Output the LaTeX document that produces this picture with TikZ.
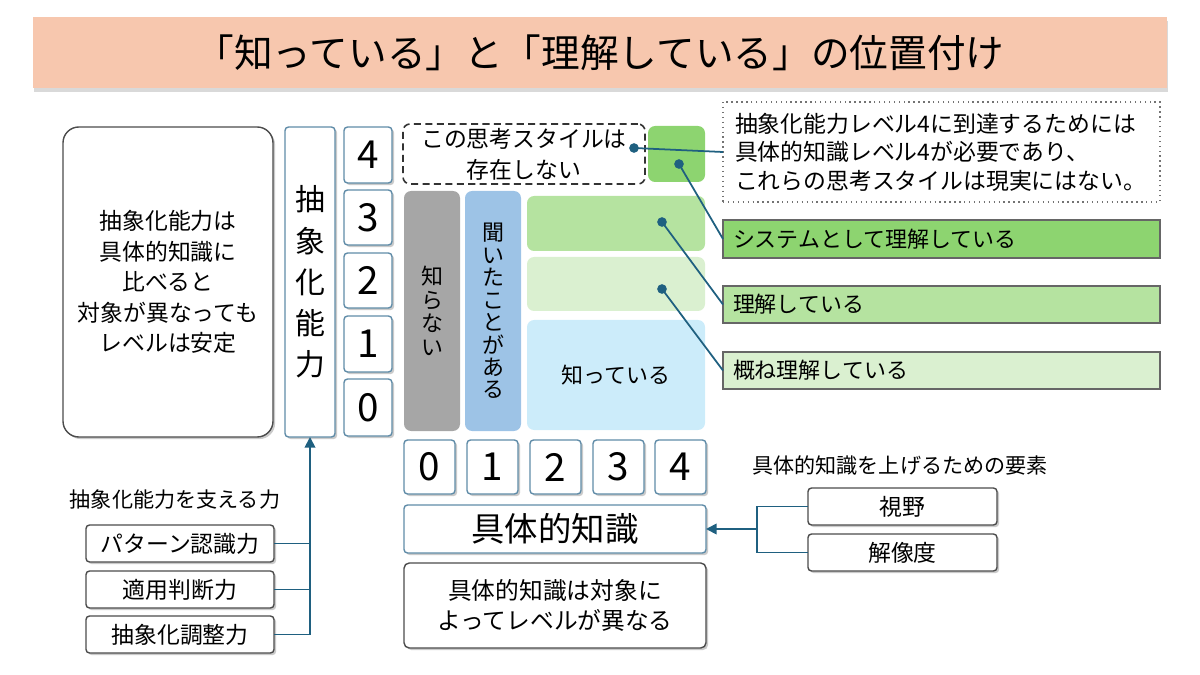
\documentclass[tikz,border=0pt]{standalone}
\usepackage{fontspec}
\setmainfont{Noto Sans CJK JP}
\usetikzlibrary{arrows.meta,shadows}
\definecolor{titlec}{RGB}{247,199,174}
\definecolor{conc}{RGB}{31,96,128}
\definecolor{numc}{RGB}{96,140,168}
\definecolor{grayc}{RGB}{166,166,166}
\definecolor{bluec}{RGB}{157,195,230}
\definecolor{skyc}{RGB}{204,236,250}
\definecolor{gdark}{RGB}{141,212,112}
\definecolor{gmid}{RGB}{181,227,160}
\definecolor{glight}{RGB}{218,240,208}
\newcommand\bx[7]{\node[#6, minimum width={(#4-#2)*0.02cm}, minimum height={(#5-#3)*0.02cm}] (#1) at ({(#2+#4)/2},{(#3+#5)/2}) {#7};}
\begin{document}
\begin{tikzpicture}[x=0.02cm,y=-0.02cm,
  base/.style={inner sep=0pt, outer sep=0pt, align=center, font=\fontsize{13}{17}\selectfont},
  shad/.style={drop shadow={shadow xshift=1.2pt, shadow yshift=-1.2pt, opacity=0.35, fill=black!60}},
  nbox/.style={base, draw=numc, line width=0.8pt, rounded corners=2pt, fill=white, shad},
  gbox/.style={base, draw=black!70, line width=0.8pt, rounded corners=3pt, fill=white, shad},
  fbox/.style={base, rounded corners=4pt},
  lbox/.style={base, draw=black!60, line width=0.7pt, align=left},
  num/.style={font=\fontsize{22}{24}\selectfont},
  con/.style={draw=conc, line width=1pt},
  arr/.style={con, -{Triangle[length=6pt,width=6pt]}},
  dot/.style={circle, fill=conc, inner sep=0pt, minimum size=5.5pt}
]
\useasboundingbox (0,0) rectangle (1200,675);
% title
\bx{title}{33}{17}{1167}{88}{base, fill=titlec, drop shadow={shadow xshift=0.5pt, shadow yshift=-2pt, opacity=0.25, fill=black!60}, font=\fontsize{22}{26}\selectfont}{「知っている」と「理解している」の位置付け}
% left explanation
\bx{leftbox}{63}{127}{273}{437}{gbox, rounded corners=9pt, font=\fontsize{13}{17.3}\selectfont}{抽象化能力は\\具体的知識に\\比べると\\対象が異なっても\\レベルは安定}
% abstraction ability vertical
\bx{abs}{285}{127}{335}{437}{nbox, font=\fontsize{17}{23.5}\selectfont}{抽\\象\\化\\能\\力}
% vertical number boxes
\bx{a4}{344}{127}{392}{183}{nbox, num}{4}
\bx{a3}{344}{190}{392}{245}{nbox, num}{3}
\bx{a2}{344}{253}{392}{308}{nbox, num}{2}
\bx{a1}{344}{316}{392}{372}{nbox, num}{1}
\bx{a0}{344}{379}{392}{436}{nbox, num}{0}
% matrix
\bx{nostyle}{403}{124}{645}{184}{base, draw=black!80, dash pattern=on 4pt off 2.5pt, line width=0.9pt, rounded corners=4pt, font=\fontsize{13}{17.5}\selectfont}{この思考スタイルは\\存在しない}
\bx{g4}{648}{126}{705}{182}{fbox, fill=gdark}{}
\bx{shiranai}{404}{191}{460}{431}{fbox, fill=grayc, font=\fontsize{12.5}{13.5}\selectfont}{知\\ら\\な\\い}
\bx{kiita}{465}{191}{521}{431}{fbox, fill=bluec, font=\fontsize{12.5}{12.8}\selectfont}{聞\\い\\た\\こ\\と\\が\\あ\\る}
\bx{g3}{527}{196}{705}{251}{fbox, fill=gmid}{}
\bx{g2}{527}{257}{705}{311}{fbox, fill=glight}{}
\bx{shitte}{527}{320}{705}{430}{fbox, fill=skyc, font=\fontsize{12.5}{16}\selectfont}{知っている}
% note and labels
\bx{note}{723}{102}{1160}{202}{base, draw=black!55, dotted, line width=0.8pt, align=left, text width={(1160-723-24)*0.02cm}, font=\fontsize{13}{16.2}\selectfont}{抽象化能力レベル4に到達するためには\\具体的知識レベル4が必要であり、\\これらの思考スタイルは現実にはない。}
\bx{sys}{723}{220}{1160}{258}{lbox, fill=gdark, text width={(1160-723-20)*0.02cm}, font=\fontsize{12.5}{15}\selectfont}{システムとして理解している}
\bx{und}{723}{286}{1160}{323}{lbox, fill=gmid, text width={(1160-723-20)*0.02cm}, font=\fontsize{12.5}{15}\selectfont}{理解している}
\bx{gai}{723}{352}{1160}{389}{lbox, fill=glight, text width={(1160-723-20)*0.02cm}, font=\fontsize{12.5}{15}\selectfont}{概ね理解している}
\node[dot] (d1) at (634,148) {};
\node[dot] (d2) at (679,164) {};
\node[dot] (d3) at (662,222) {};
\node[dot] (d4) at (662,289) {};
\draw[con] (d1.center) -- (note.west);
\draw[con] (d2.center) -- (sys.west);
\draw[con] (d3.center) -- (und.west);
\draw[con] (d4.center) -- (gai.west);
% horizontal number boxes
\bx{b0}{404}{440}{455}{494}{nbox, num}{0}
\bx{b1}{467}{440}{518}{494}{nbox, num}{1}
\bx{b2}{530}{440}{581}{494}{nbox, num}{2}
\bx{b3}{593}{440}{644}{494}{nbox, num}{3}
\bx{b4}{655}{440}{706}{494}{nbox, num}{4}
\bx{gk}{404}{505}{706}{553}{nbox, font=\fontsize{19}{22}\selectfont}{具体的知識}
\bx{gkdesc}{404}{563}{706}{648}{gbox, font=\fontsize{13.5}{17}\selectfont}{具体的知識は対象に\\よってレベルが異なる}
% elements to raise concrete knowledge
\node[base, font=\fontsize{12}{14}\selectfont] (elabel) at (900,465) {具体的知識を上げるための要素};
\bx{v1}{808}{488}{997}{525}{gbox, rounded corners=2pt, font=\fontsize{13}{15}\selectfont}{視野}
\bx{v2}{808}{534}{997}{571}{gbox, rounded corners=2pt, font=\fontsize{13}{15}\selectfont}{解像度}
\coordinate (br) at (757,529);
\draw[con] (v1.west) -| (br) |- (v2.west);
\draw[arr] (br) -- (gk.east);
% supporting abilities
\node[base, font=\fontsize{12}{14}\selectfont] (slabel) at (175,499) {抽象化能力を支える力};
\bx{p1}{86}{525}{274}{562}{gbox, rounded corners=2pt, font=\fontsize{13}{15}\selectfont}{パターン認識力}
\bx{p2}{86}{571}{274}{608}{gbox, rounded corners=2pt, font=\fontsize{13}{15}\selectfont}{適用判断力}
\bx{p3}{86}{616}{274}{653}{gbox, rounded corners=2pt, font=\fontsize{13}{15}\selectfont}{抽象化調整力}
\draw[con] (p1.east) -- (p1.east -| abs.south);
\draw[con] (p2.east) -- (p2.east -| abs.south);
\draw[con] (p3.east) -- (p3.east -| abs.south);
\draw[arr] (p3.east -| abs.south) -- (abs.south);
\end{tikzpicture}
\end{document}
